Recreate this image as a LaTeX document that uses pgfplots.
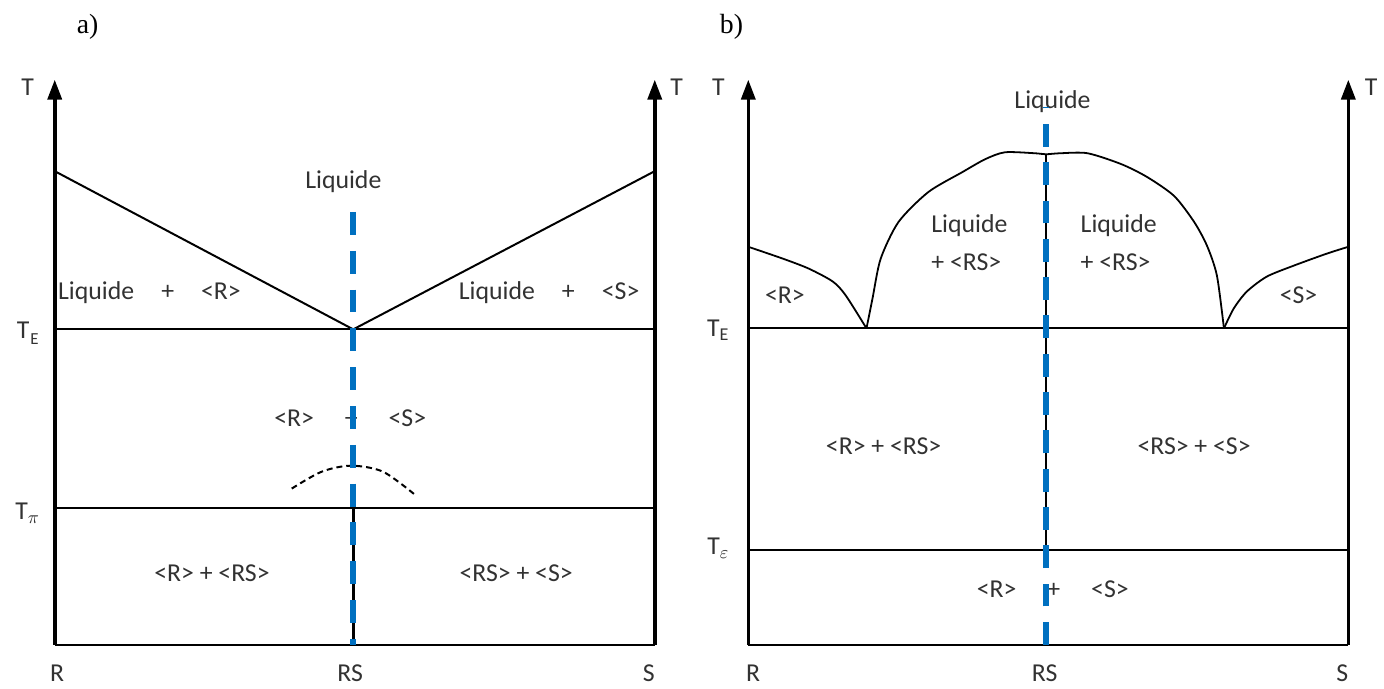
\documentclass[border=0pt]{standalone}
\usepackage{fontspec}
\setmainfont{Carlito}
\newfontfamily\timesfont{Liberation Serif}
\usepackage{pgfplots}
\pgfplotsset{compat=1.18}
\usetikzlibrary{arrows.meta}
\definecolor{rsblue}{RGB}{0,112,192}
\definecolor{txt}{RGB}{50,50,50}

\pgfplotsset{
  phase/.style={x=301.5bp, y=0.5bp, xmin=0, xmax=1, ymin=0, ymax=570,
    hide axis, clip=false, anchor=south west},
  taxis/.style={black, line width=1.8bp, -{Triangle[width=7bp,length=10bp]}},
  bnd/.style={black, line width=1bp},
  curve/.style={black, line width=0.9bp, smooth, tension=0.45},
  rsline/.style={rsblue, line width=3bp, dash pattern=on 11.5bp off 8bp},
}

\begin{document}
\begin{tikzpicture}[font=\fontsize{13}{15}\selectfont]
\path (-27.5bp,-20.5bp) rectangle (664.5bp,324bp);

% ---- a) ----
\begin{axis}[phase, at={(0,0)}]
  \node[txt] at (axis cs:0.481,465) {Liquide};
  \node[txt] at (axis cs:0.158,354) {Liquide\hspace{1.05em}+\hspace{1.05em}<R>};
  \node[txt] at (axis cs:0.824,354) {Liquide\hspace{1.05em}+\hspace{1.05em}<S>};
  \node[txt] at (axis cs:0.4925,228) {<R>\hspace{1.2em}+\hspace{1.2em}<S>};
  \node[txt] at (axis cs:0.262,72) {<R> + <RS>};
  \node[txt] at (axis cs:0.769,72) {<RS> + <S>};

  \node[txt] at (axis cs:-0.045,560) {T};
  \node[txt] at (axis cs:1.0365,560) {T};
  \node[txt] at (axis cs:-0.045,313) {T\kern0.5pt\raisebox{-0.45ex}{\fontsize{8.5}{9}\selectfont E}};
  \node[txt] at (axis cs:-0.045,132) {T$_\pi$};
  \node[txt] at (axis cs:0.004,-29) {R};
  \node[txt] at (axis cs:0.4925,-29) {RS};
  \node[txt] at (axis cs:0.99,-29) {S};
  \node at (axis cs:0.0547,621) {\timesfont\fontsize{14}{16}\selectfont a)};

  \addplot[bnd] coordinates {(0,476) (0.4975,317) (1,476)};
  \addplot[bnd] coordinates {(0,317) (1,317)};
  \addplot[bnd] coordinates {(0,137) (1,137)};
  \addplot[bnd] coordinates {(0,0) (1,0)};
  \addplot[black, line width=1.4bp] coordinates {(0.4975,0) (0.4975,137)};
  \addplot[black, line width=1bp, dash pattern=on 3bp off 2bp, smooth]
    coordinates {(0.395,157) (0.445,174) (0.494,180) (0.547,174) (0.600,151)};
  \addplot[taxis] coordinates {(0,0) (0,568)};
  \addplot[taxis] coordinates {(1,0) (1,568)};
  \addplot[rsline] coordinates {(0.4975,435) (0.4975,0)};
\end{axis}

% ---- b) ----
\begin{axis}[phase, at={(348.5bp,0)}]
  \node[txt] at (axis cs:0.507,546) {Liquide};
  \node[txt, anchor=west] at (axis cs:0.2935,421) {Liquide};
  \node[txt, anchor=west] at (axis cs:0.2935,384) {+ <RS>};
  \node[txt, anchor=west] at (axis cs:0.5423,421) {Liquide};
  \node[txt, anchor=west] at (axis cs:0.5423,384) {+ <RS>};
  \node[txt] at (axis cs:0.061,351) {<R>};
  \node[txt] at (axis cs:0.917,351) {<S>};
  \node[txt] at (axis cs:0.2255,200) {<R> + <RS>};
  \node[txt] at (axis cs:0.743,200) {<RS> + <S>};
  \node[txt] at (axis cs:0.5075,56) {<R>\hspace{1.2em}+\hspace{1.2em}<S>};

  \node[txt] at (axis cs:-0.05,560) {T};
  \node[txt] at (axis cs:1.038,560) {T};
  \node[txt] at (axis cs:-0.05,316) {T$_{\mathrm{E}}$};
  \node[txt] at (axis cs:-0.05,97) {T$_\varepsilon$};
  \node[txt] at (axis cs:0.008,-29) {R};
  \node[txt] at (axis cs:0.494,-29) {RS};
  \node[txt] at (axis cs:0.99,-29) {S};
  \node at (axis cs:-0.028,621) {\timesfont\fontsize{14}{16}\selectfont b)};

  \addplot[curve] coordinates {(0,400) (0.058,388) (0.101,378) (0.141,365) (0.1625,351) (0.197,318)};
  \addplot[curve] coordinates {(0.197,318) (0.207,348) (0.2206,388) (0.2504,425) (0.300,455)
    (0.3566,475) (0.3947,488) (0.4279,495) (0.4776,494) (0.496,493) (0.52,494) (0.5655,494)
    (0.6219,483) (0.665,470) (0.7098,451) (0.743,425) (0.7645,401) (0.781,371) (0.7927,318)};
  \addplot[curve] coordinates {(0.7927,318) (0.809,338) (0.8308,355) (0.864,370) (0.9088,381) (0.9635,393) (1,400)};
  \addplot[bnd] coordinates {(0,318) (1,318)};
  \addplot[bnd] coordinates {(0,95) (1,95)};
  \addplot[bnd] coordinates {(0,0) (1,0)};
  \addplot[black, line width=1.4bp] coordinates {(0.496,95) (0.496,493)};
  \addplot[taxis] coordinates {(0,0) (0,568)};
  \addplot[taxis] coordinates {(1,0) (1,568)};
  \addplot[rsline, dash pattern=on 11.5bp off 7.75bp] coordinates {(0.496,0) (0.496,540)};
\end{axis}
\end{tikzpicture}
\end{document}
